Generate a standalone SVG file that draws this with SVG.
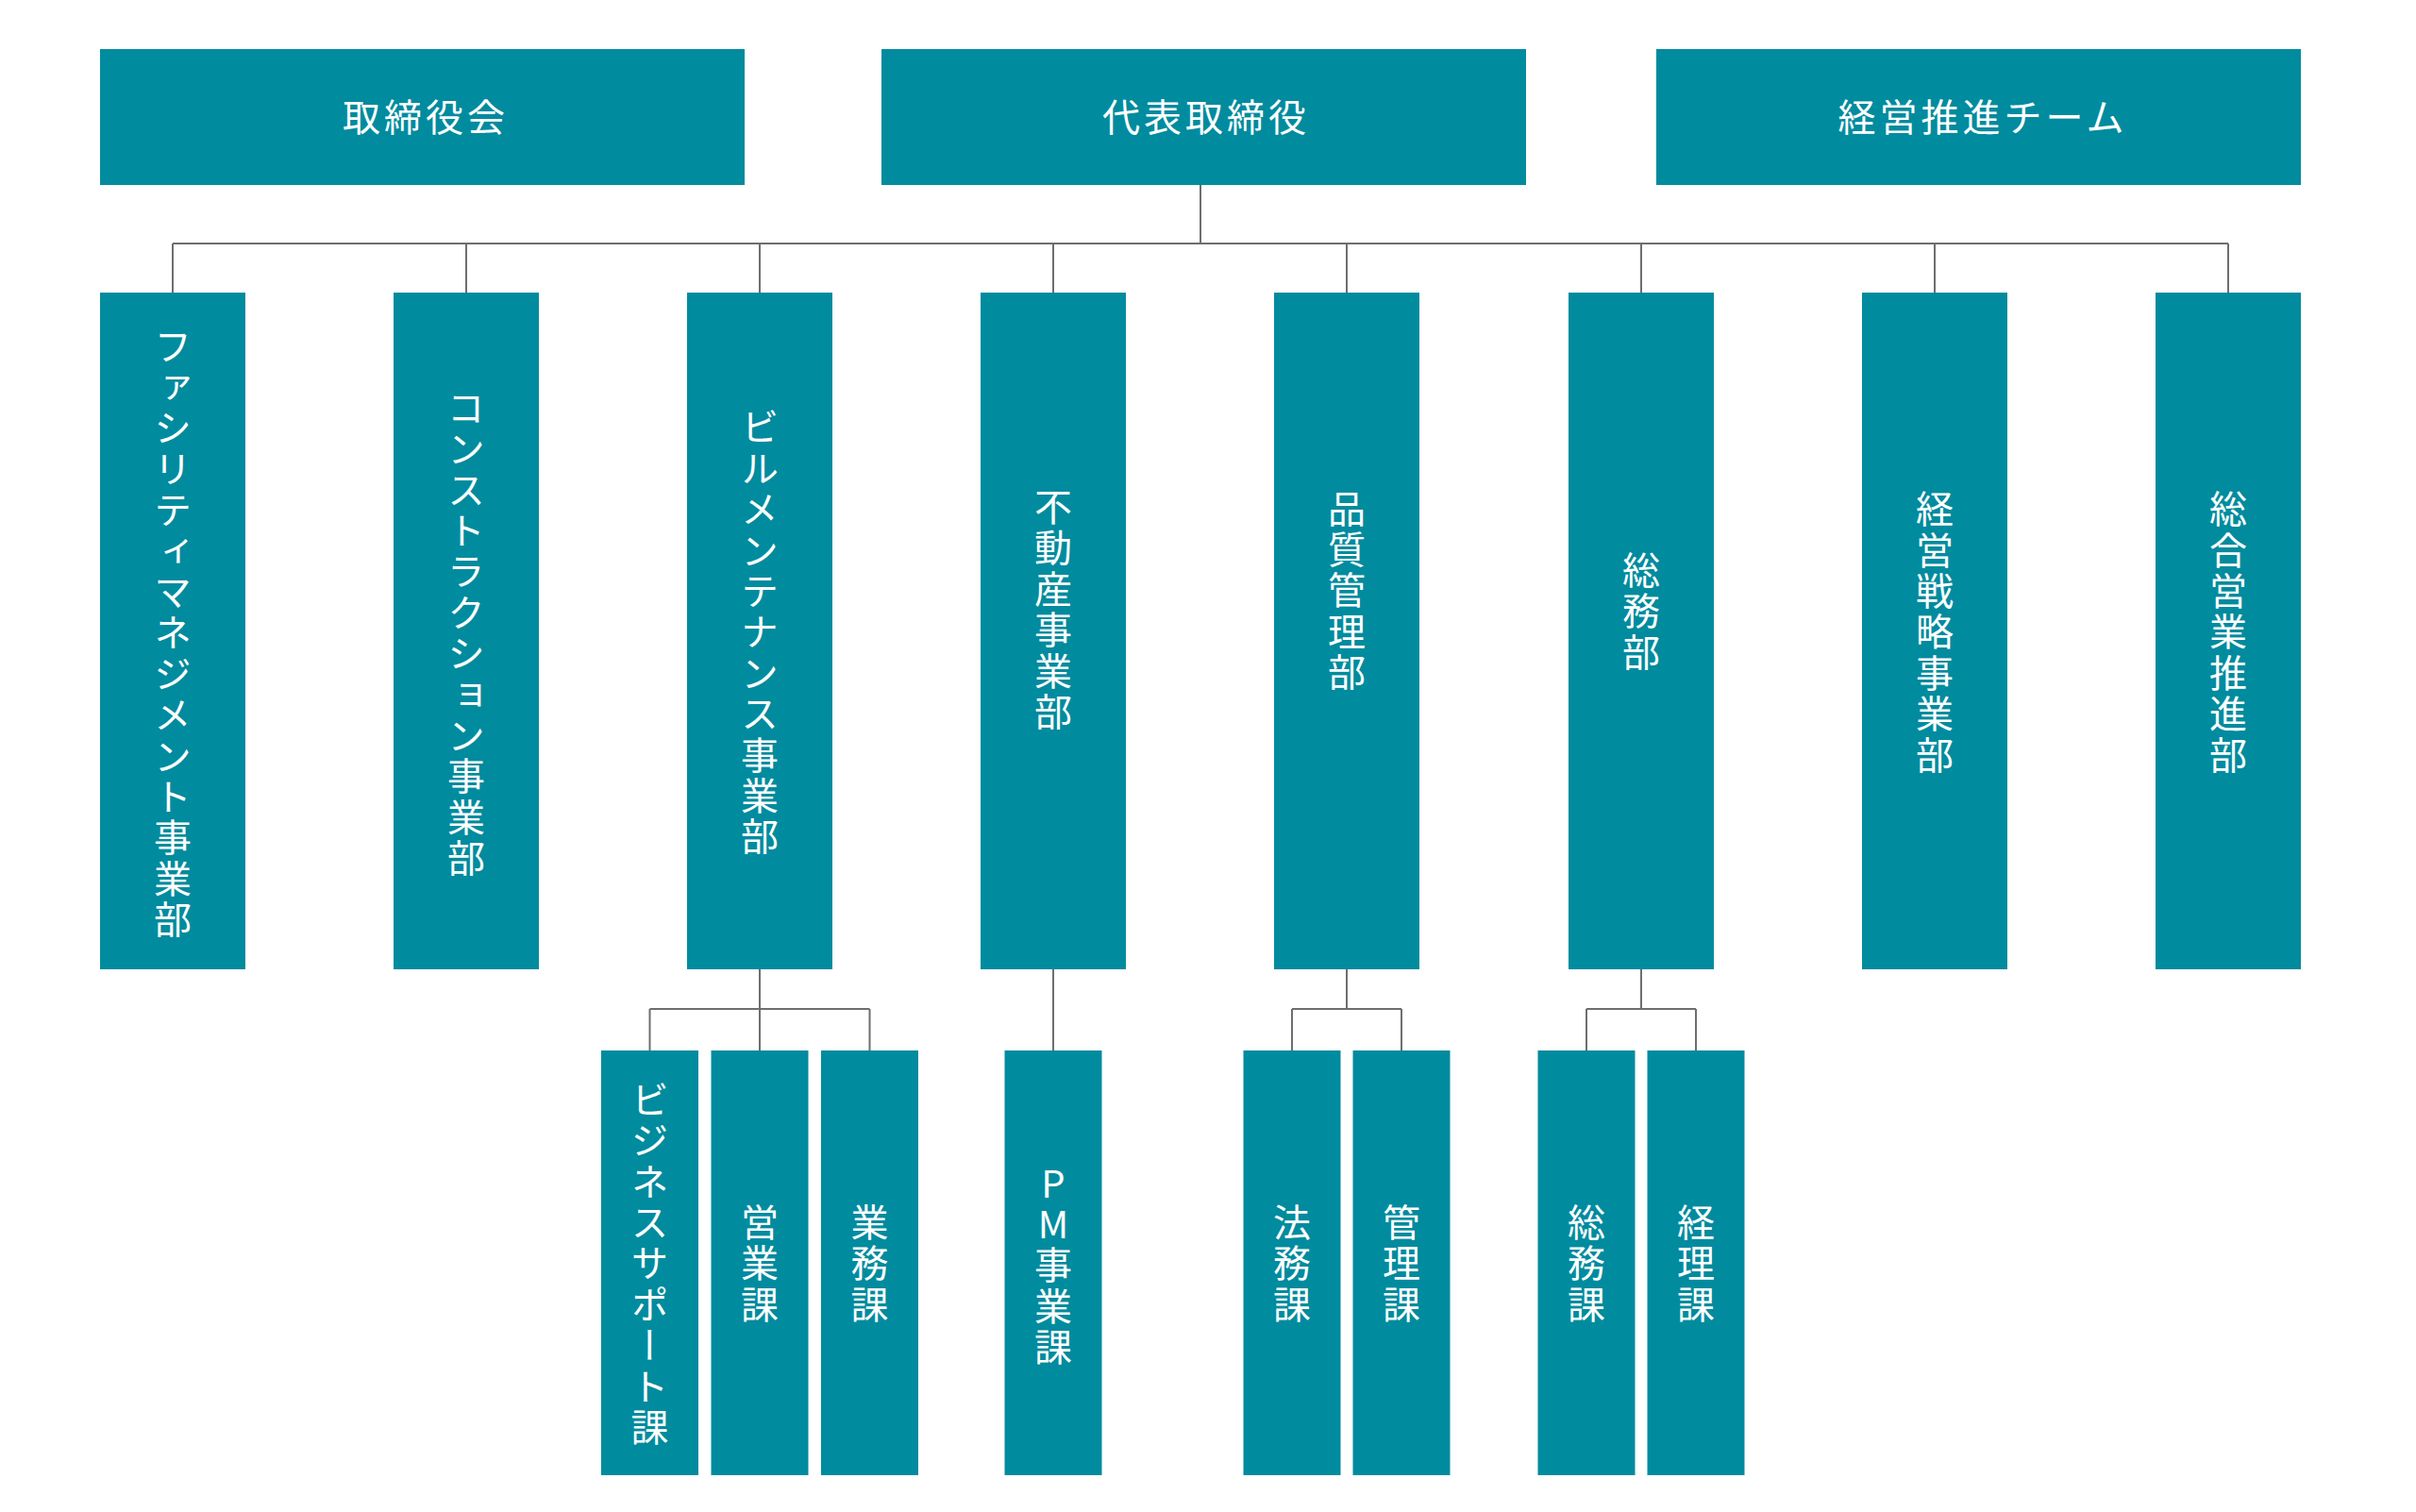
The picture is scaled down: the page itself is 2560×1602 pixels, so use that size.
<svg xmlns="http://www.w3.org/2000/svg" width="2560" height="1602" viewBox="0 0 2560 1602">
<style>
.box{fill:#018b9e}
.t{fill:#ffffff;font-family:"Noto Sans CJK JP","Noto Sans CJK SC",sans-serif;font-size:40px}
.h{text-anchor:middle;dominant-baseline:central;letter-spacing:4px}
.v{writing-mode:vertical-rl;text-orientation:upright;text-anchor:middle;letter-spacing:3.4px}
.ln{fill:none;stroke:#6e6e6e;stroke-width:2}
</style>
<rect width="2560" height="1602" fill="#ffffff"/>
<g id="connectors">
<path class="ln" d="M1272 196V258M183 258H2361M183 258V310M494 258V310M805 258V310M1116 258V310M1427 258V310M1739 258V310M2050 258V310M2361 258V310"/>
<path class="ln" d="M805 1027V1069M688.5 1069H921.5M688.5 1069V1113M805 1069V1113M921.5 1069V1113"/>
<path class="ln" d="M1116 1027V1113"/>
<path class="ln" d="M1427 1027V1069M1369 1069H1485M1369 1069V1113M1485 1069V1113"/>
<path class="ln" d="M1739 1027V1069M1681 1069H1797M1681 1069V1113M1797 1069V1113"/>
</g>
<g id="board"><rect class="box" x="106" y="52" width="683" height="144"/><text class="t h" x="451" y="122">取締役会</text></g>
<g id="ceo"><rect class="box" x="934" y="52" width="683" height="144"/><text class="t h" x="1278" y="122">代表取締役</text></g>
<g id="team"><rect class="box" x="1755" y="52" width="683" height="144"/><text class="t h" x="2101" y="122">経営推進チーム</text></g>
<g id="d1"><rect class="box" x="106" y="310" width="154" height="717"/><text class="t v" x="183" y="672">ファシリティマネジメント事業部</text></g>
<g id="d2"><rect class="box" x="417" y="310" width="154" height="717"/><text class="t v" x="494" y="672">コンストラクション事業部</text></g>
<g id="d3"><rect class="box" x="728" y="310" width="154" height="717"/><text class="t v" x="805" y="671">ビルメンテナンス事業部</text></g>
<g id="d4"><rect class="box" x="1039" y="310" width="154" height="717"/><text class="t v" x="1116" y="647">不動産事業部</text></g>
<g id="d5"><rect class="box" x="1350" y="310" width="154" height="717"/><text class="t v" x="1427" y="627">品質管理部</text></g>
<g id="d6"><rect class="box" x="1662" y="310" width="154" height="717"/><text class="t v" x="1739" y="649">総務部</text></g>
<g id="d7"><rect class="box" x="1973" y="310" width="154" height="717"/><text class="t v" x="2050" y="671">経営戦略事業部</text></g>
<g id="d8"><rect class="box" x="2284" y="310" width="154" height="717"/><text class="t v" x="2361" y="671">総合営業推進部</text></g>
<g id="s1"><rect class="box" x="637" y="1113" width="103" height="450"/><text class="t v" x="688.5" y="1340">ビジネスサポート課</text></g>
<g id="s2"><rect class="box" x="753.5" y="1113" width="103" height="450"/><text class="t v" x="805" y="1340">営業課</text></g>
<g id="s3"><rect class="box" x="870" y="1113" width="103" height="450"/><text class="t v" x="921.5" y="1340">業務課</text></g>
<g id="s4"><rect class="box" x="1064.5" y="1113" width="103" height="450"/><text class="t v" x="1116" y="1342">PM事業課</text></g>
<g id="s5"><rect class="box" x="1317.5" y="1113" width="103" height="450"/><text class="t v" x="1369" y="1340">法務課</text></g>
<g id="s6"><rect class="box" x="1433.5" y="1113" width="103" height="450"/><text class="t v" x="1485" y="1340">管理課</text></g>
<g id="s7"><rect class="box" x="1629.5" y="1113" width="103" height="450"/><text class="t v" x="1681" y="1340">総務課</text></g>
<g id="s8"><rect class="box" x="1745.5" y="1113" width="103" height="450"/><text class="t v" x="1797" y="1340">経理課</text></g>
</svg>
